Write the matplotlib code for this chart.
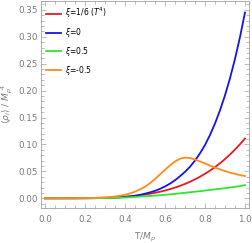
import numpy as np
import matplotlib
matplotlib.use("Agg")
import matplotlib.pyplot as plt
from matplotlib.ticker import MultipleLocator, FormatStrFormatter

T = [0.00, 0.05, 0.10, 0.15, 0.20, 0.25, 0.300, 0.325, 0.350, 0.375, 0.400,
     0.425, 0.450, 0.475, 0.500, 0.525, 0.550, 0.575, 0.600, 0.625, 0.650,
     0.675, 0.700, 0.725, 0.750, 0.775, 0.800, 0.825, 0.850, 0.875, 0.900,
     0.925, 0.950, 0.975, 1.000]

rho_xi_sixth = [0.0, 0.000001, 0.00001, 0.00006, 0.00018, 0.00043, 0.0009, 0.00124,
                0.00167, 0.0022, 0.00284, 0.00362, 0.00455, 0.00565, 0.00694,
                0.00843, 0.01016, 0.01213, 0.01439, 0.01694, 0.01982, 0.02304,
                0.02665, 0.03067, 0.03512, 0.04004, 0.04547, 0.05142, 0.05794,
                0.06507, 0.07283, 0.08126, 0.09041, 0.10031, 0.111]
rho_xi_0 = [0.0, 0.0, 0.0, 0.00001, 0.00004, 0.0002, 0.0005, 0.0008, 0.0012,
            0.0018, 0.0025, 0.0034, 0.0047, 0.0064, 0.0085, 0.011, 0.0138,
            0.0175, 0.022, 0.0272, 0.0335, 0.041, 0.049, 0.0585, 0.070, 0.0835,
            0.0989, 0.1175, 0.1389, 0.1634, 0.1912, 0.2229, 0.2589, 0.2994, 0.345]
rho_xi_05 = [0.0, 0.0, 0.0, 0.00002, 0.00005, 0.0001, 0.0003, 0.0005, 0.0007,
             0.001, 0.0014, 0.0019, 0.0025, 0.0031, 0.0037, 0.0043, 0.005,
             0.0057, 0.0065, 0.0073, 0.0082, 0.0092, 0.0102, 0.0112, 0.0122,
             0.0132, 0.0143, 0.0154, 0.0165, 0.0176, 0.0188, 0.020, 0.0213,
             0.0227, 0.0245]
rho_xi_m05 = [0.0, 0.0, 0.00002, 0.0001, 0.0003, 0.0008, 0.0017, 0.0024, 0.0034,
              0.0047, 0.0065, 0.0090, 0.0123, 0.0165, 0.0215, 0.0280, 0.0358,
              0.0443, 0.0530, 0.0612, 0.0683, 0.0735, 0.0756, 0.0748, 0.0720,
              0.0685, 0.0646, 0.0607, 0.0570, 0.0536, 0.0505, 0.0477, 0.0453,
              0.0431, 0.0412]

labels = [r"$\xi$=1/6 ($T^4$)", r"$\xi$=0", r"$\xi$=0.5", r"$\xi$=-0.5"]
colors = ["#e81a1a", "#1414e6", "#2ee62e", "#ff8c1a"]
series = [rho_xi_sixth, rho_xi_0, rho_xi_05, rho_xi_m05]

plt.rcParams["mathtext.fontset"] = "dejavusans"
plt.rcParams["font.family"] = ["DejaVu Sans"]

fig = plt.figure(figsize=(2.52, 2.43), dpi=100)
ax = fig.add_axes([0.1627, 0.1453, 0.8253, 0.8517])

for y, c, lab in zip(series, colors, labels):
    ax.plot(T, y, color=c, lw=1.3, label=lab, solid_joinstyle="round")

ax.set_xlim(-0.02, 1.02)
ax.set_ylim(-0.0175, 0.367)

gray = "#7a7a7a"
for s in ax.spines.values():
    s.set_color("#a0a0a0")
    s.set_linewidth(0.6)

ax.xaxis.set_major_locator(MultipleLocator(0.2))
ax.xaxis.set_minor_locator(MultipleLocator(0.05))
ax.yaxis.set_major_locator(MultipleLocator(0.05))
ax.yaxis.set_minor_locator(MultipleLocator(0.01))
ax.xaxis.set_major_formatter(FormatStrFormatter("%.1f"))
ax.yaxis.set_major_formatter(FormatStrFormatter("%.2f"))

ax.tick_params(which="both", direction="in", top=True, right=True,
               color="#a0a0a0", labelcolor=gray, labelsize=6.3, width=0.5)
ax.tick_params(which="major", length=3.5)
ax.tick_params(which="minor", length=2)
ax.tick_params(axis="x", pad=5)
ax.tick_params(axis="y", pad=2)

ax.set_xlabel(r"T/$M_p$", color=gray, fontsize=6.5, labelpad=5)
ax.set_ylabel(r"$\langle\rho_i\rangle\ /\ M_p^{\ 4}$", color=gray, fontsize=6.5, labelpad=3)

ax.legend(loc="upper left", frameon=False, fontsize=5.5, handlelength=1.9,
          handletextpad=0.5, labelspacing=0.75, borderaxespad=0.3,
          bbox_to_anchor=(0.0, 1.0))

fig.savefig("out.png", dpi=100)
